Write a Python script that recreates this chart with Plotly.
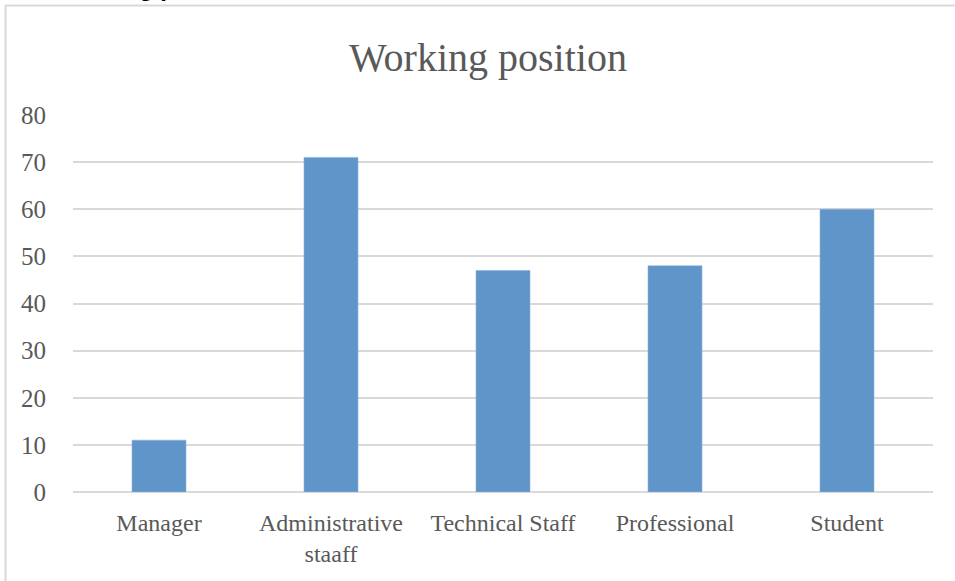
import plotly.graph_objects as go

# Respondents by working position
categories = ["Manager", "Administrative<br>staaff", "Technical Staff", "Professional", "Student"]
counts = [11, 71, 47, 48, 60]
y_ticks = [0, 10, 20, 30, 40, 50, 60, 70, 80]

W, H = 955, 581
ML, MR, MT, MB = 73, 22, 115, 89
PW, PH = W - ML - MR, H - MT - MB


def px_x(px):
    return (px - ML) / PW


def px_y(py):
    return (H - MB - py) / PH


TEXT = "#595959"
FONT = "Liberation Serif"

fig = go.Figure(
    go.Bar(
        x=categories,
        y=counts,
        marker=dict(color="#5f95c9", line=dict(color="#8db4da", width=0.6)),
        width=0.314,
        hoverinfo="x+y",
    )
)

fig.update_layout(
    width=W,
    height=H,
    margin=dict(l=ML, r=MR, t=MT, b=MB),
    paper_bgcolor="white",
    plot_bgcolor="white",
    showlegend=False,
    title=dict(
        text="Working position",
        x=px_x(488),
        xanchor="center",
        xref="paper",
        y=1 - 57 / H,
        yanchor="middle",
        font=dict(family=FONT, size=40, color=TEXT),
    ),
    xaxis=dict(
        showgrid=False,
        showline=False,
        zeroline=False,
        ticks="outside",
        ticklen=9,
        tickcolor="rgba(0,0,0,0)",
        tickfont=dict(family=FONT, size=24, color=TEXT),
    ),
    yaxis=dict(
        range=[0, 80],
        tickvals=y_ticks,
        showgrid=True,
        gridcolor="#d9d9d9",
        gridwidth=1.5,
        zeroline=True,
        zerolinecolor="#d9d9d9",
        zerolinewidth=1.5,
        showline=False,
        ticks="outside",
        ticklen=21,
        tickcolor="rgba(0,0,0,0)",
        tickfont=dict(family=FONT, size=25, color=TEXT),
    ),
    shapes=[
        # chart-area frame, running off the right and bottom edges of the page
        dict(
            type="rect",
            xref="paper",
            yref="paper",
            x0=px_x(5.5),
            x1=px_x(W + 20),
            y0=px_y(H + 20),
            y1=px_y(5.5),
            line=dict(color="#d9d9d9", width=2),
            fillcolor="rgba(0,0,0,0)",
            layer="below",
        )
    ],
    annotations=[
        # section heading above the chart, mostly off the top of the page
        dict(
            text="<b>Working position</b>",
            xref="paper",
            yref="paper",
            x=px_x(56),
            y=px_y(3),
            xanchor="left",
            yanchor="bottom",
            showarrow=False,
            font=dict(family="Liberation Sans", size=24, color="#000000"),
        )
    ],
)

fig.write_html("out.html")
